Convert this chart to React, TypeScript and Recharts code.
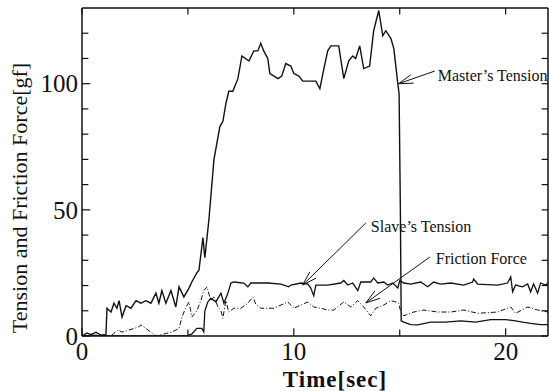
import { LineChart, Line, XAxis, YAxis, ReferenceLine } from "recharts";

// Master's tension [gf]
const masterT = [
  0, 0.24, 0.42, 0.66, 0.9, 1.13, 1.18, 1.37, 1.51, 1.65,
  1.75, 1.89, 2.08, 2.31, 2.55, 2.78, 3.02, 3.25, 3.49, 3.63,
  3.77, 3.96, 4.2, 4.43, 4.58, 4.81, 5.05, 5.19, 5.42, 5.52,
  5.71, 5.8, 5.99, 6.23, 6.51, 6.65, 6.79, 6.93, 7.12, 7.36,
  7.55, 7.88, 8.11, 8.3, 8.44, 8.58, 8.77, 8.87, 9.25, 9.43,
  9.62, 9.86, 10.0, 10.24, 10.42, 10.8, 11.04, 11.23, 11.42, 11.6,
  11.75, 12.12, 12.36, 12.59, 12.78, 12.92, 13.11, 13.3, 13.58, 13.77,
  14.01, 14.2, 14.34, 14.58, 14.72, 14.91, 14.97, 15.03, 15.07, 15.19,
  15.52, 15.85, 16.46, 17.17, 17.88, 18.58, 19.29, 20.0, 20.47, 20.8,
  21.18, 21.65, 22,
];
const masterV = [
  0, 1.2, 0.5, 1.5, 0.3, 0.5, 11, 9.5, 13, 11,
  14, 7.5, 12, 11, 14, 13, 14, 13, 17, 13,
  18, 13, 18, 11.5, 19.5, 15.5, 19, 21.5, 25, 26,
  39, 31, 46, 70, 83, 85, 92, 97, 97, 102,
  111, 109, 113, 113, 116, 113, 110, 104, 102, 103,
  108, 107, 104, 103, 101, 101, 101, 98, 106, 113,
  115, 115, 102, 109, 111, 110, 115, 106, 107, 121,
  129, 119, 121, 118, 114, 100, 96, 50, 6, 5.5,
  4.5, 4.4, 5.5, 5.5, 6, 5.5, 6.5, 6.5, 6, 5.5,
  5, 4.5, 4.5,
];

// Slave's tension [gf]
const slaveT = [
  0, 3.25, 4.91, 5.19, 5.42, 5.66, 5.75, 5.8, 5.94, 6.08,
  6.32, 6.56, 6.7, 6.89, 7.03, 7.17, 7.64, 7.83, 7.97, 8.11,
  8.77, 9.39, 9.76, 9.86, 10.33, 10.66, 10.8, 10.94, 11.04, 11.6,
  12.22, 12.36, 12.55, 12.78, 13.02, 13.16, 13.63, 13.77, 13.96, 14.25,
  14.43, 14.67, 14.91, 15.0, 15.19, 15.52, 15.99, 16.32, 16.6, 16.93,
  17.41, 18.02, 18.44, 18.49, 18.68, 19.62, 20.09, 20.24, 20.33, 20.47,
  20.8, 21.04, 21.18, 21.32, 21.51, 21.65, 21.89, 22,
];
const slaveV = [
  0, 0, 0, 0.8, 3, 3, 1.6, 10, 13.5, 15,
  13.5, 17, 13, 17, 21, 21.4, 21, 19.5, 21, 21,
  21, 20.6, 19.5, 20.2, 21, 20.6, 19, 16, 20.2, 20.2,
  21, 22, 20.2, 21, 18, 21.4, 21.4, 23, 21, 21.4,
  20.2, 21, 19, 22, 21, 20.6, 21.4, 19.5, 21.4, 20.6,
  21, 20.2, 21.4, 22.6, 20.6, 20.2, 21, 23.4, 17.5, 20.2,
  19.5, 20.6, 17.5, 20.6, 17, 21, 20.2, 21,
];

// Friction force [gf]
const frictionT = [
  0, 0.9, 1.37, 1.7, 1.89, 2.22, 2.69, 2.78, 3.02, 3.25,
  3.49, 3.96, 4.25, 4.58, 4.72, 4.91, 5.05, 5.19, 5.42, 5.61,
  5.75, 5.9, 6.08, 6.23, 6.42, 6.56, 6.65, 6.79, 6.93, 7.17,
  7.5, 7.83, 8.07, 8.21, 8.44, 9.06, 9.72, 10.0, 10.66, 10.94,
  11.27, 11.6, 11.89, 12.36, 12.69, 13.02, 13.3, 13.63, 13.87, 14.25,
  14.58, 14.81, 14.95, 15.05, 15.19, 15.66, 16.13, 16.79, 17.41, 18.02,
  18.68, 19.62, 20.24, 20.47, 21.04, 21.51, 22,
];
const frictionV = [
  0, 0.5, 0, 2.4, 1.5, 2.4, 3.6, 4.4, 3, 1.5,
  0, 1, 1.6, 3, 7.5, 11.5, 13.5, 7.5, 10, 14,
  18, 19.5, 14, 15.5, 11.5, 10, 7, 14, 9.5, 11,
  11, 13, 15.5, 12.5, 11, 11, 13.5, 11, 13.5, 11.5,
  11, 10.3, 10.3, 13.5, 11.5, 14, 11.5, 8, 11, 12.3,
  14, 13.5, 13, 9.5, 8, 9.5, 10.3, 9.5, 9.5, 10.3,
  9, 9.5, 11.5, 9, 11.5, 10.3, 9.5,
];

const xMax = 22;
const yMax = 130;
const xTicks = [0, 5, 10, 15, 20];
const xLabels = [0, 10, 20];
const yTicks = [0, 10, 20, 30, 40, 50, 60, 70, 80, 90, 100, 110, 120];
const yLabels = [0, 50, 100];

// annotations: text, arrow tail (near text) and tip (on the curve)
const notes = [
  { text: "Master\u2019s Tension", tail: [16.65, 105], tip: [14.95, 100], dx: 3, dy: 10 },
  { text: "Slave\u2019s Tension", tail: [13.4, 44.8], tip: [10.42, 20.2], dx: 5, dy: 9 },
  { text: "Friction Force", tail: [16.42, 31.3], tip: [13.4, 13.1], dx: 6, dy: 7 },
];

const pts = (ts: number[], vs: number[]) => ts.map((t, i) => ({ t, v: vs[i] }));
const master = pts(masterT, masterV);
const slave = pts(slaveT, slaveV);
const friction = pts(frictionT, frictionV);

const serif = "'Liberation Serif', 'Times New Roman', serif";
const ink = "#111";

// inward tick lengths in data units (about 6px)
const tx = 0.3;
const ty = 2.6;

const BottomTick = (p: any) =>
  xLabels.includes(p.payload.value) ? (
    <text x={p.x} y={p.y - 2} dy="0.71em" textAnchor="middle" fontSize={25} fontFamily={serif} fill={ink}>
      {p.payload.value}
    </text>
  ) : (
    <g />
  );

const LeftTick = (p: any) =>
  yLabels.includes(p.payload.value) ? (
    <text x={p.x + 4} y={p.y} dy="0.35em" textAnchor="end" fontSize={25} fontFamily={serif} fill={ink}>
      {p.payload.value}
    </text>
  ) : (
    <g />
  );

function arrowShape(note: (typeof notes)[number]) {
  return (p: any) => {
    const { x1, y1, x2, y2 } = p;
    const a = Math.atan2(y1 - y2, x1 - x2);
    const len = 15;
    const spread = 0.3;
    return (
      <g>
        <line x1={x1} y1={y1} x2={x2} y2={y2} stroke={ink} strokeWidth={1} />
        <polyline
          points={`${x2 + len * Math.cos(a - spread)},${y2 + len * Math.sin(a - spread)} ${x2},${y2} ${x2 + len * Math.cos(a + spread)},${y2 + len * Math.sin(a + spread)}`}
          fill="none"
          stroke={ink}
          strokeWidth={1}
        />
        <text x={x1 + note.dx} y={y1 + note.dy} fontSize={16} fontFamily={serif} fill={ink}>
          {note.text}
        </text>
      </g>
    );
  };
}

const seg = (key: string, a: [number, number], b: [number, number], w = 1.2) => (
  <ReferenceLine
    key={key}
    segment={[
      { x: a[0], y: a[1] },
      { x: b[0], y: b[1] },
    ]}
    stroke={ink}
    strokeWidth={w}
    ifOverflow="visible"
  />
);

export default function App() {
  return (
    <div style={{ position: "relative", width: 549, height: 391, background: "#fff", overflow: "hidden" }}>
      <style>{"body{margin:0}"}</style>
      <LineChart width={549} height={391} margin={{ top: 8, right: 1, left: 0, bottom: 0 }}>
        <XAxis
          dataKey="t"
          type="number"
          domain={[0, xMax]}
          ticks={xTicks}
          allowDataOverflow
          height={55}
          tick={BottomTick}
          tickLine={false}
          stroke={ink}
          strokeWidth={1.5}
        />
        <YAxis
          type="number"
          domain={[0, yMax]}
          ticks={yTicks}
          allowDataOverflow
          width={82}
          tick={LeftTick}
          tickLine={false}
          stroke={ink}
          strokeWidth={1.5}
        />
        {/* frame: top and right */}
        {seg("top", [0, yMax], [xMax, yMax], 1.5)}
        {seg("right", [xMax, 0], [xMax, yMax], 1.5)}
        {/* inward ticks on all four sides */}
        {xTicks.map((t) => seg(`b${t}`, [t, 0], [t, xLabels.includes(t) ? ty * 1.2 : ty]))}
        {xTicks.map((t) => seg(`t${t}`, [t, yMax], [t, yMax - ty]))}
        {yTicks.map((v) => seg(`l${v}`, [0, v], [yLabels.includes(v) ? tx * 1.3 : tx, v]))}
        {yTicks.map((v) => seg(`r${v}`, [xMax, v], [xMax - tx, v]))}
        <Line data={master} dataKey="v" type="linear" stroke={ink} strokeWidth={1.4} dot={false} isAnimationActive={false} />
        <Line data={slave} dataKey="v" type="linear" stroke={ink} strokeWidth={1.3} dot={false} isAnimationActive={false} />
        <Line
          data={friction}
          dataKey="v"
          type="linear"
          stroke={ink}
          strokeWidth={1}
          strokeDasharray="5 2 1 2"
          dot={false}
          isAnimationActive={false}
        />
        {notes.map((n) => (
          <ReferenceLine
            key={n.text}
            segment={[
              { x: n.tail[0], y: n.tail[1] },
              { x: n.tip[0], y: n.tip[1] },
            ]}
            shape={arrowShape(n)}
          />
        ))}
      </LineChart>
      <div
        style={{
          position: "absolute",
          left: 335,
          top: 369,
          transform: "translateX(-50%)",
          fontFamily: serif,
          fontWeight: "bold",
          fontSize: 23,
          lineHeight: "22px",
          letterSpacing: 1,
          whiteSpace: "nowrap",
          color: ink,
        }}
      >
        Time[sec]
      </div>
      <div
        style={{
          position: "absolute",
          left: 20,
          top: 198,
          transform: "translate(-50%, -50%) rotate(-90deg)",
          fontFamily: serif,
          fontSize: 22,
          lineHeight: "22px",
          whiteSpace: "nowrap",
          color: ink,
        }}
      >
        Tension and Friction Force[gf]
      </div>
    </div>
  );
}
